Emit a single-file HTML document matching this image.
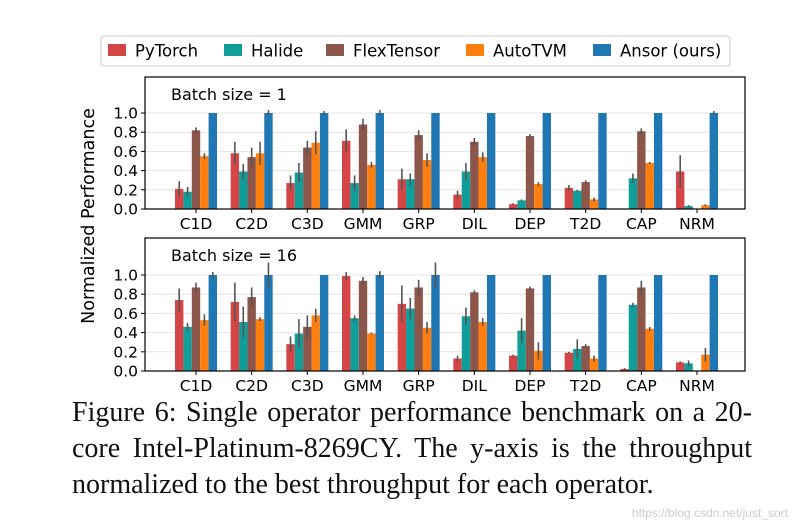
<!DOCTYPE html>
<html><head><meta charset="utf-8"><style>
body{margin:0;background:#fff;width:796px;height:526px;overflow:hidden;position:relative}
svg{position:absolute;left:0;top:0}
.cap{position:absolute;left:72px;top:395px;width:680px;font-family:"Liberation Serif",serif;font-size:28px;line-height:36px;color:#111}
.cap div{white-space:nowrap}
.cap .j{text-align:justify;text-align-last:justify;white-space:normal}
.wm{position:absolute;right:8px;bottom:6px;font-family:"Liberation Sans",sans-serif;font-size:12px;color:#ccc}
</style></head><body>
<svg id="chart" width="796" height="526" font-family="DejaVu Sans, Liberation Sans, sans-serif"></svg>
<div class="cap"><div class="j">Figure 6: Single operator performance benchmark on a 20-</div><div class="j">core Intel-Platinum-8269CY. The y-axis is the throughput</div><div>normalized to the best throughput for each operator.</div></div>
<div class="wm">https://blog.csdn.net/just_sort</div>
<script>
const categories=["C1D","C2D","C3D","GMM","GRP","DIL","DEP","T2D","CAP","NRM"];
const seriesNames=["PyTorch","Halide","FlexTensor","AutoTVM","Ansor (ours)"];
const colors=["#d64545","#0f9e99","#8c564b","#ff7f0e","#1f77b4"];
const b1PyTorch=[0.21,0.58,0.27,0.71,0.31,0.15,0.05,0.22,0,0.39];
const b1Halide=[0.18,0.39,0.38,0.27,0.31,0.39,0.09,0.19,0.32,0.03];
const b1Flex=[0.82,0.54,0.64,0.88,0.77,0.70,0.76,0.28,0.81,0];
const b1AutoTVM=[0.55,0.58,0.69,0.46,0.51,0.54,0.26,0.10,0.48,0.04];
const b1Ansor=[1,1,1,1,1,1,1,1,1,1];
const b1Err=[[0.08,0.12,0.08,0.12,0.11,0.04,0.01,0.03,0,0.17],[0.05,0.08,0.10,0.08,0.06,0.09,0.01,0.01,0.05,0.01],[0.03,0.10,0.07,0.06,0.05,0.04,0.02,0.02,0.03,0],[0.03,0.12,0.12,0.03,0.07,0.05,0.02,0.02,0.01,0.01],[0,0.03,0.02,0.03,0,0,0,0,0,0.02]];
const b16PyTorch=[0.74,0.72,0.28,0.99,0.70,0.13,0.16,0.19,0.02,0.09];
const b16Halide=[0.46,0.51,0.39,0.55,0.65,0.57,0.42,0.23,0.69,0.08];
const b16Flex=[0.87,0.77,0.46,0.94,0.87,0.82,0.86,0.26,0.87,0];
const b16AutoTVM=[0.53,0.54,0.58,0.39,0.45,0.51,0.21,0.13,0.44,0.17];
const b16Ansor=[1,1,1,1,1,1,1,1,1,1];
const b16Err=[[0.12,0.20,0.08,0.04,0.19,0.03,0.01,0.01,0.01,0.01],[0.04,0.16,0.15,0.03,0.11,0.09,0.13,0.10,0.02,0.03],[0.05,0.10,0.12,0.04,0.08,0.02,0.02,0.02,0.07,0],[0.06,0.02,0.07,0.01,0.06,0.04,0.09,0.03,0.02,0.07],[0.03,0.13,0,0.04,0.13,0,0,0,0,0]];
const yTicks=[0,0.2,0.4,0.6,0.8,1.0];
const tickLabels=["0.0","0.2","0.4","0.6","0.8","1.0"];

const svg=document.getElementById('chart');
const NS="http://www.w3.org/2000/svg";
function mk(t,a,p){const e=document.createElementNS(NS,t);for(const k in a)e.setAttribute(k,a[k]);(p||svg).appendChild(e);return e;}
const L=145,R=745,x0=196,step=(697-196)/9,bw=8.4;
function xPos(i,s){return x0+step*i+(s-2)*bw;}

function panel(top,bottom,yOne,title,data,err,name){
  const g=mk('g',{});
  
  
  const yScale=v=>bottom-(bottom-yOne)*v;
  yTicks.forEach((t,k)=>{
    const y=yScale(t);
    const gl=mk('line',{x1:L,x2:R,y1:y,y2:y,stroke:'#e4e4e4','stroke-width':1},g);
    
    
    mk('line',{x1:L-4,x2:L,y1:y,y2:y,stroke:'#000','stroke-width':1},g);
    const tl=mk('text',{x:L-7,y:y+5.5,'text-anchor':'end','font-size':15.5},g);
    tl.textContent=tickLabels[k];
    
    
  });
  data.forEach((arr,s)=>{
    arr.forEach((v,i)=>{
      const x=xPos(i,s),y=yScale(v);
      const r=mk('rect',{x:x-bw/2,y:y,width:bw,height:bottom-y,fill:colors[s]},g);
      
      
      const e=err[s][i];
      if(e>0&&v>0) mk('line',{x1:x,x2:x,y1:yScale(v+e),y2:yScale(Math.max(0,v-e)),stroke:'#555','stroke-width':1.6},g);
    });
  });
  categories.forEach((c,i)=>{
    const x=xPos(i,2);
    mk('line',{x1:x,x2:x,y1:bottom,y2:bottom+4,stroke:'#000'},g);
    const t=mk('text',{x:x,y:bottom+20,'text-anchor':'middle','font-size':15.5},g);
    t.textContent=c;
    
    
  });
  mk('rect',{x:L,y:top,width:R-L,height:bottom-top,fill:'none',stroke:'#000','stroke-width':1.2},g);
  const tt=mk('text',{x:171,y:top+23,'font-size':16},g);
  tt.textContent=title;
  
  
}
panel(77,209,113,"Batch size = 1",[b1PyTorch,b1Halide,b1Flex,b1AutoTVM,b1Ansor],b1Err,'panel-batch-1');
panel(238,371,275,"Batch size = 16",[b16PyTorch,b16Halide,b16Flex,b16AutoTVM,b16Ansor],b16Err,'panel-batch-16');

const yl=mk('text',{x:0,y:0,'font-size':17.5,'text-anchor':'middle',transform:'translate(94,216) rotate(-90)'});
yl.textContent="Normalized Performance";



const lg=mk('g',{});


mk('rect',{x:101,y:36,width:629,height:30,rx:3,fill:'#fff',stroke:'#ccc'},lg);
const lx=[108,224,326,466,593];
seriesNames.forEach((n,s)=>{
  const e=mk('g',{},lg);
  
  
  mk('rect',{x:lx[s],y:44,width:18,height:12,fill:colors[s]},e);
  const t=mk('text',{x:lx[s]+27,y:56.5,'font-size':16.5},e);
  t.textContent=n;
});
</script>
</body></html>
